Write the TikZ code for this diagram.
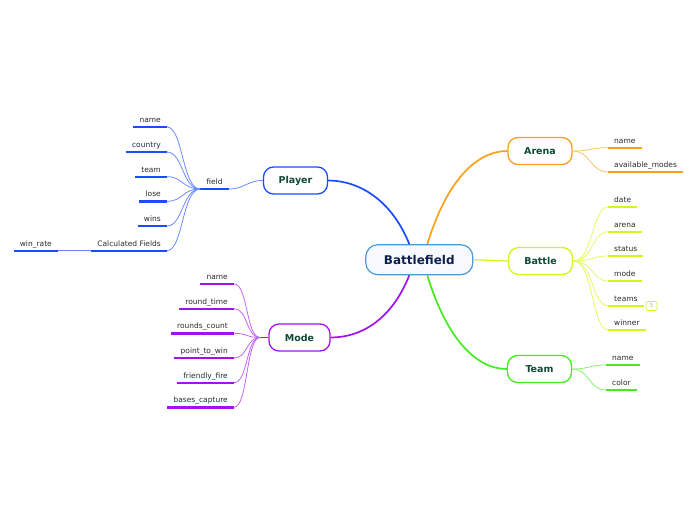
\documentclass[tikz,border=0pt]{standalone}
\usepackage{fontspec}
\setmainfont{DejaVu Sans}
\usetikzlibrary{calc}
\definecolor{RootLine}{HTML}{4A9AD4}
\definecolor{RootFill}{HTML}{F6FAFE}
\definecolor{RootInk}{HTML}{0E1E4D}
\definecolor{TopicInk}{HTML}{0F4A36}
\definecolor{LeafInk}{HTML}{2A2A2A}
\definecolor{PBlue}{HTML}{1A4CFF}
\definecolor{POrange}{HTML}{F9A11B}
\definecolor{PLime}{HTML}{D2F51A}
\definecolor{PGreen}{HTML}{46EA1E}
\definecolor{PPurple}{HTML}{A212F0}

\tikzset{
  topic/.style={draw=#1,line width=1.3pt,rounded corners=10pt,fill=white,
    minimum width=64pt,minimum height=27pt,text=TopicInk,
    font=\bfseries\fontsize{9.5}{11}\selectfont},
  leaf/.style={font=\fontsize{7.5}{8}\selectfont,text=LeafInk,
    inner xsep=6pt,inner ysep=2.6pt,text height=5.6pt,text depth=1.6pt,
    append after command={(\tikzlastnode.south west)
      edge[line width=2.4pt,#1] (\tikzlastnode.south east)}},
  limb/.style={#1,line width=1.7pt},
  twig/.style={#1!65,line width=0.8pt}
}

\begin{document}
\begin{tikzpicture}[x=1pt,y=-1pt]
    \useasboundingbox (0,0) rectangle (696,520);
    % root
    \node[draw=RootLine,fill=RootFill,line width=1.2pt,rounded corners=12pt,
      minimum width=107pt,minimum height=30pt,text=RootInk,
      font=\bfseries\fontsize{12}{14}\selectfont] (bf) at (419.3,259.7) {Battlefield};
    % main topics
    \node[topic=PBlue] (player) at (295.5,180.5) {Player};
    \node[topic=PPurple,minimum width=61pt] (mode) at (299.5,337.5) {Mode};
    \node[topic=POrange] (arena) at (540,151) {Arena};
    \node[topic=PLime] (battle) at (540.5,261) {Battle};
    \node[topic=PGreen] (team) at (539.5,369) {Team};

    \draw[limb=PBlue] ([xshift=-10pt]bf.north) .. controls +(-18,-45) and +(30,0) .. (player.east);
    \draw[limb=PPurple] ([xshift=-10pt]bf.south) .. controls +(-18,45) and +(30,0) .. (mode.east);
    \draw[limb=POrange] ([xshift=8pt]bf.north) .. controls +(20,-65) and +(-30,0) .. (arena.west);
    \draw[limb=PGreen] ([xshift=8pt]bf.south) .. controls +(20,65) and +(-30,0) .. (team.west);
    \draw[PLime,line width=1.2pt] (bf.east) -- (battle.west);

    % Player fields
    \node[leaf=PBlue,anchor=south] (field) at (214.5,189) {field};
    \node[leaf=PBlue,anchor=south east] (pname) at (167,127) {name};
    \node[leaf=PBlue,anchor=south east] (pcountry) at (167,152) {country};
    \node[leaf=PBlue,anchor=south east] (pteam) at (167,176.7) {team};
    \node[leaf=PBlue,anchor=south east] (plose) at (167,201.3) {lose};
    \node[leaf=PBlue,anchor=south east] (pwins) at (167,226) {wins};
    \node[leaf=PBlue,anchor=south east] (pcalc) at (167,250.7) {Calculated Fields};
    \node[leaf=PBlue,anchor=south east] (pwinrate) at (58,250.7) {win\_rate};
    \draw[twig=PBlue] (player.west) .. controls +(-16,0) and +(16,0) .. (field.south east);
    \foreach \n in {pname,pcountry,pteam,plose,pwins,pcalc}
      \draw[twig=PBlue] (field.south west) .. controls +(-18,0) and +(16,0) .. (\n.south east);
    \draw[twig=PBlue] (pcalc.south west) -- (pwinrate.south east);

    % Mode fields
    \coordinate (mhub) at (260,337.5);
    \node[leaf=PPurple,anchor=south east] (mname) at (234,284) {name};
    \node[leaf=PPurple,anchor=south east] (mround) at (234,308.7) {round\_time};
    \node[leaf=PPurple,anchor=south east] (mcount) at (234,333.3) {rounds\_count};
    \node[leaf=PPurple,anchor=south east] (mpoint) at (234,358) {point\_to\_win};
    \node[leaf=PPurple,anchor=south east] (mfire) at (234,382.7) {friendly\_fire};
    \node[leaf=PPurple,anchor=south east] (mbases) at (234,407.3) {bases\_capture};
    \draw[limb=PPurple] (mode.west) -- (mhub);
    \foreach \n in {mname,mround,mcount,mpoint,mfire,mbases}
      \draw[twig=PPurple] (mhub) .. controls +(-14,0) and +(14,0) .. (\n.south east);

    % Arena fields
    \node[leaf=POrange,anchor=south west] (aname) at (608,147.7) {name};
    \node[leaf=POrange,anchor=south west] (amodes) at (608,172) {available\_modes};
    \foreach \n in {aname,amodes}
      \draw[twig=POrange] (arena.east) .. controls +(18,0) and +(-18,0) .. (\n.south west);

    % Battle fields
    \node[leaf=PLime,anchor=south west] (bdate) at (608,207) {date};
    \node[leaf=PLime,anchor=south west] (barena) at (608,231.7) {arena};
    \node[leaf=PLime,anchor=south west] (bstatus) at (608,256) {status};
    \node[leaf=PLime,anchor=south west] (bmode) at (608,281) {mode};
    \node[leaf=PLime,anchor=south west] (bteams) at (608,305.7) {teams};
    \node[leaf=PLime,anchor=south west] (bwinner) at (608,330) {winner};
    \node[draw=PLime,line width=0.6pt,rounded corners=2pt,inner sep=0pt,
      minimum width=11pt,minimum height=9pt,text=PLime!60!gray,
      font=\fontsize{5.5}{6}\selectfont] (bcount) at (651.5,306) {5};
    \foreach \n in {bdate,barena,bstatus,bmode,bteams,bwinner}
      \draw[twig=PLime] (battle.east) .. controls +(20,0) and +(-16,0) .. (\n.south west);

    % Team fields
    \node[leaf=PGreen,anchor=south west] (tname) at (606,365) {name};
    \node[leaf=PGreen,anchor=south west] (tcolor) at (606,390) {color};
    \foreach \n in {tname,tcolor}
      \draw[twig=PGreen] (team.east) .. controls +(18,0) and +(-18,0) .. (\n.south west);
\end{tikzpicture}
\end{document}
